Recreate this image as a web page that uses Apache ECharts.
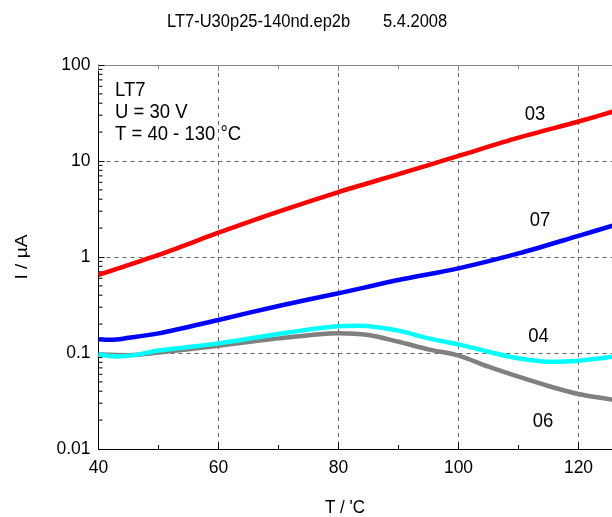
<!DOCTYPE html>
<html>
<head>
<meta charset="utf-8">
<script src="https://cdn.jsdelivr.net/npm/echarts@6/dist/echarts.min.js"></script>
<style>
  html, body { margin: 0; padding: 0; background: #fff; }
  #chart { width: 612px; height: 517px; }
</style>
</head>
<body>
<div id="chart"></div>
<script>
// Leakage current I (µA) versus temperature T (°C) for four samples of LT7
const tempRed  = [40, 50, 60, 70, 80, 90, 100, 110, 120, 126];
const curRed   = [0.65, 1.05, 1.79, 2.97, 4.75, 7.3, 11.3, 17.5, 25.8, 33];   // 03

const tempBlue = [40, 42, 45, 50, 60, 70, 80, 90, 100, 110, 120, 126];
const curBlue  = [0.139, 0.137, 0.144, 0.160, 0.221, 0.309, 0.419, 0.575, 0.762, 1.09, 1.66, 2.15]; // 07

const tempCyan = [40, 43, 46, 50, 60, 70, 80, 83.5, 90, 95, 100, 105, 110, 115, 120, 126];
const curCyan  = [0.097, 0.092, 0.095, 0.106, 0.126, 0.158, 0.19, 0.192, 0.171, 0.142, 0.123, 0.103, 0.088, 0.081, 0.083, 0.092]; // 04

const tempGrey = [40, 45, 50, 60, 70, 80, 85, 90, 95, 100, 105, 110, 115, 120, 126];
const curGrey  = [0.097, 0.095, 0.101, 0.119, 0.142, 0.161, 0.154, 0.131, 0.109, 0.094, 0.072, 0.0566, 0.0453, 0.0374, 0.0324]; // 06

const xTicks = [40, 60, 80, 100, 120];
const yTickLabels = ['0.01', '0.1', '1', '10', '100'];
const decades = [0.01, 0.1, 1, 10];
const minorFactors = [2, 3, 4, 5, 6, 7, 8, 9];

const FONT = 'Liberation Sans, Arial, Helvetica, sans-serif';
const TALL = 1.13;   // text is drawn slightly taller than wide

function pairs(xs, ys) { return xs.map((x, i) => [x, ys[i]]); }

const yMinor = [];
decades.forEach(d => minorFactors.forEach(f => yMinor.push([xTicks[0], d * f])));

const chart = echarts.init(document.getElementById('chart'), null, { renderer: 'canvas' });

const gridLine = { show: true, lineStyle: { color: '#666', type: [4, 4], width: 1 } };

const lineSeries = (name, data, color) => ({
  name, type: 'line', data, smooth: 0.3, showSymbol: false, symbol: 'none',
  lineStyle: { color, width: 4.5, cap: 'butt' }, z: 3
});

function label(text, x, y, size, align, rotation) {
  return {
    type: 'text', x, y, rotation: rotation || 0,
    scaleX: rotation ? TALL : 1, scaleY: rotation ? 1 : TALL,
    style: { text, fill: '#000', font: size + 'px ' + FONT, align: align || 'left', verticalAlign: 'middle' }
  };
}

chart.setOption({
  animation: false,
  backgroundColor: '#fff',
  // the plot runs on past the right edge of the page (axis ends at 130 °C)
  grid: { left: 98.5, top: 65, width: 540, height: 384, containLabel: false, outerBoundsMode: 'none' },
  xAxis: [{
    type: 'value', min: 40, max: 130, interval: 20,
    axisLine: { show: true, onZero: false, lineStyle: { color: '#000', width: 1 } },
    axisTick: { show: true, inside: true, length: 6, lineStyle: { color: '#000' } },
    minorTick: { show: true, splitNumber: 2, length: 4, lineStyle: { color: '#000' } },
    axisLabel: { color: '#000', fontSize: 17.5, fontFamily: FONT, margin: 10,
                 formatter: v => (xTicks.indexOf(v) >= 0 ? String(v) : '') },
    splitLine: gridLine
  }, {
    type: 'value', position: 'top', min: 40, max: 130, interval: 20,
    axisLine: { show: true, onZero: false, lineStyle: { color: '#888', width: 1 } },
    axisTick: { show: true, inside: true, length: 6, lineStyle: { color: '#888' } },
    minorTick: { show: true, splitNumber: 2, length: 4, lineStyle: { color: '#888' } },
    axisLabel: { show: false },
    splitLine: { show: false }
  }],
  yAxis: {
    type: 'log', logBase: 10, min: 0.01, max: 100,
    axisLine: { show: true, onZero: false, lineStyle: { color: '#000', width: 1 } },
    axisTick: { show: true, inside: true, length: 6, lineStyle: { color: '#000' } },
    axisLabel: { color: '#000', fontSize: 17.5, fontFamily: FONT, margin: 8,
                 formatter: v => yTickLabels[Math.round(Math.log10(v)) + 2] },
    splitLine: gridLine
  },
  series: [
    {
      type: 'custom', name: 'minor', silent: true, clip: false, z: 2,
      data: yMinor, encode: { x: 0, y: 1 },
      renderItem: (params, api) => {
        const p = api.coord([api.value(0), api.value(1)]);
        return { type: 'line', shape: { x1: p[0], y1: p[1], x2: p[0] + 4, y2: p[1] },
                 style: { stroke: '#000', lineWidth: 1 } };
      }
    },
    lineSeries('06', pairs(tempGrey, curGrey), '#808080'),
    lineSeries('04', pairs(tempCyan, curCyan), '#00ffff'),
    lineSeries('07', pairs(tempBlue, curBlue), '#0000ff'),
    lineSeries('03', pairs(tempRed, curRed), '#ff0000')
  ],
  graphic: [
    label('LT7-U30p25-140nd.ep2b', 167, 22, 16.5),
    label('5.4.2008', 383, 22, 16.5),
    label('LT7', 115, 90, 18.5),
    label('U = 30 V', 115, 112.5, 18.5),
    label('T = 40 - 130 °C', 115, 134.5, 18.5),
    label('03', 535, 114, 18.5, 'center'),
    label('07', 540, 220, 18.5, 'center'),
    label('04', 538.5, 336, 18.5, 'center'),
    label('06', 543, 421, 18.5, 'center'),
    label('I / µA', 22, 257, 17, 'center', Math.PI / 2),
    label("T / 'C", 345, 508, 17, 'center')
  ]
});
</script>
</body>
</html>
